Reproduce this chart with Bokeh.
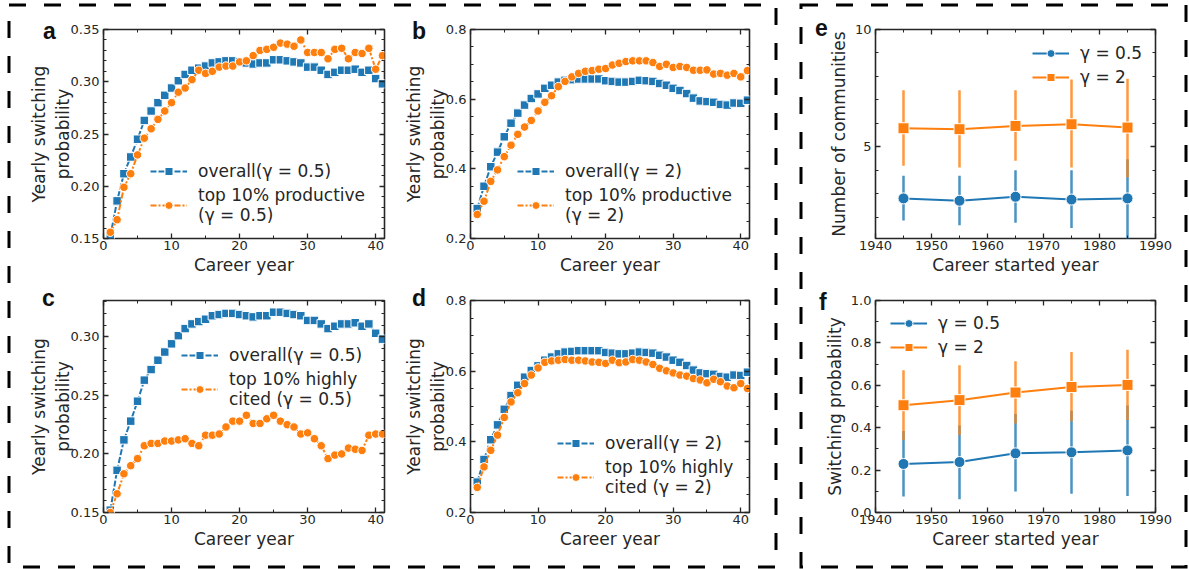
import numpy as np
from bokeh.plotting import figure
from bokeh.layouts import row, column
from bokeh.models import (LinearAxis, FixedTicker, Range1d, Legend, LegendItem,
                          ColumnDataSource, PrintfTickFormatter, Div)
from bokeh.embed import file_html
from bokeh.resources import INLINE

FONT = "DejaVu Sans"
BLUE = "#1f77b4"
ORANGE = "#ff7f0e"
INK = "#262626"

# ---------------- data ----------------
years = list(range(1, 42))
overall_05 = [0.152, 0.186, 0.212, 0.228, 0.245, 0.263, 0.272, 0.280, 0.287, 0.294,
              0.301, 0.307, 0.311, 0.313, 0.315, 0.318, 0.319, 0.320, 0.320, 0.319,
              0.318, 0.317, 0.318, 0.318, 0.321, 0.321, 0.320, 0.319, 0.318, 0.314,
              0.314, 0.311, 0.307, 0.309, 0.311, 0.311, 0.312, 0.309, 0.311, 0.303, 0.298]
top_prod_05 = [0.156, 0.168, 0.199, 0.212, 0.230, 0.246, 0.255, 0.264, 0.272, 0.280,
               0.290, 0.294, 0.302, 0.311, 0.308, 0.310, 0.314, 0.315, 0.315, 0.319,
               0.320, 0.325, 0.330, 0.331, 0.333, 0.337, 0.336, 0.334, 0.340, 0.328,
               0.328, 0.328, 0.322, 0.331, 0.332, 0.322, 0.328, 0.327, 0.332, 0.312, 0.325]
top_cited_05 = [0.150, 0.166, 0.183, 0.190, 0.196, 0.207, 0.209, 0.209, 0.211, 0.211,
                0.212, 0.213, 0.209, 0.207, 0.216, 0.216, 0.217, 0.223, 0.228, 0.228,
                0.233, 0.226, 0.226, 0.230, 0.233, 0.228, 0.225, 0.223, 0.217, 0.218,
                0.213, 0.207, 0.196, 0.199, 0.200, 0.205, 0.204, 0.203, 0.216, 0.217, 0.217]
overall_2 = [0.286, 0.350, 0.406, 0.448, 0.492, 0.531, 0.560, 0.583, 0.602, 0.615,
             0.631, 0.640, 0.649, 0.654, 0.656, 0.658, 0.658, 0.658, 0.658, 0.653,
             0.651, 0.649, 0.649, 0.651, 0.654, 0.653, 0.651, 0.645, 0.640, 0.631,
             0.625, 0.616, 0.603, 0.595, 0.593, 0.591, 0.585, 0.583, 0.589, 0.588, 0.597]
top_prod_2 = [0.269, 0.307, 0.364, 0.397, 0.435, 0.468, 0.499, 0.520, 0.539, 0.566,
              0.591, 0.610, 0.636, 0.651, 0.664, 0.674, 0.680, 0.682, 0.686, 0.688,
              0.698, 0.703, 0.708, 0.710, 0.710, 0.710, 0.705, 0.694, 0.700, 0.691,
              0.694, 0.691, 0.683, 0.683, 0.684, 0.672, 0.674, 0.669, 0.674, 0.664, 0.682]
top_cited_2 = [0.271, 0.329, 0.376, 0.419, 0.469, 0.513, 0.539, 0.565, 0.589, 0.609,
               0.625, 0.629, 0.631, 0.633, 0.631, 0.631, 0.629, 0.626, 0.625, 0.622,
               0.631, 0.624, 0.626, 0.633, 0.631, 0.626, 0.619, 0.608, 0.601, 0.595,
               0.589, 0.586, 0.579, 0.575, 0.567, 0.577, 0.570, 0.558, 0.553, 0.565, 0.551]

start_years = [1945, 1955, 1965, 1975, 1985]
comm_05 = [2.80, 2.70, 2.87, 2.75, 2.80]
comm_05_lo = [1.86, 1.65, 1.76, 1.54, 0.95]
comm_05_hi = [3.77, 3.77, 4.00, 4.00, 4.47]
comm_2 = [5.79, 5.75, 5.89, 5.96, 5.82]
comm_2_lo = [4.19, 4.12, 4.40, 4.12, 3.70]
comm_2_hi = [7.41, 7.41, 7.41, 7.87, 7.90]
sw_05 = [0.229, 0.238, 0.279, 0.284, 0.293]
sw_05_lo = [0.075, 0.063, 0.099, 0.088, 0.078]
sw_05_hi = [0.384, 0.410, 0.465, 0.480, 0.505]
sw_2 = [0.506, 0.530, 0.566, 0.592, 0.602]
sw_2_lo = [0.342, 0.365, 0.420, 0.431, 0.436]
sw_2_hi = [0.671, 0.694, 0.713, 0.757, 0.768]

# ---------------- layout (page pixels) ----------------
COLS = [(392, 103, 8), (406, 78, 49), (390, 77, 33)]   # width, min_left, min_right
ROWS = [(284, 29, 46), (284, 16, 56)]                  # height, min_top, min_bottom


def make_panel(ci, ri, xr, yr, xt, xm, yt, ym, yfmt, xlabel, ylabel, ylab_standoff):
    w, mbl, mbr = COLS[ci]
    h, mbt, mbb = ROWS[ri]
    p = figure(width=w, height=h, x_range=Range1d(*xr), y_range=Range1d(*yr),
               output_backend="svg", toolbar_location=None,
               min_border_left=mbl, min_border_right=mbr,
               min_border_top=mbt, min_border_bottom=mbb)
    p.grid.visible = False
    p.outline_line_color = INK
    p.outline_line_width = 1.6
    p.add_layout(LinearAxis(), "above")
    p.add_layout(LinearAxis(), "right")
    xtick = FixedTicker(ticks=xt, minor_ticks=xm)
    ytick = FixedTicker(ticks=yt, minor_ticks=ym)
    for ax in p.xaxis:
        ax.ticker = xtick
    for ax in p.yaxis:
        ax.ticker = ytick
        ax.formatter = PrintfTickFormatter(format=yfmt)
    for ax in p.axis:
        ax.axis_line_color = None
        ax.major_tick_in = 5
        ax.major_tick_out = 0
        ax.minor_tick_in = 3
        ax.minor_tick_out = 0
        ax.major_tick_line_color = INK
        ax.minor_tick_line_color = INK
        ax.major_tick_line_width = 1.3
        ax.minor_tick_line_width = 1.0
        ax.major_label_text_font = FONT
        ax.major_label_text_font_size = "13px"
        ax.major_label_text_color = INK
        ax.axis_label_text_font = FONT
        ax.axis_label_text_font_size = "17px"
        ax.axis_label_text_font_style = "normal"
        ax.axis_label_text_color = INK
    for ax in p.above + p.right:
        ax.major_label_text_font_size = "0px"
        ax.major_label_text_color = None
        ax.major_label_standoff = 0
    bx = p.below[0]
    bx.axis_label = xlabel
    bx.major_label_standoff = 2
    bx.axis_label_standoff = 2
    ly = p.left[0]
    ly.axis_label = ylabel
    ly.major_label_standoff = 4
    ly.axis_label_standoff = ylab_standoff
    return p


def add_series(p, xs, ys, color, marker, dash):
    src = ColumnDataSource(dict(x=xs, y=ys))
    l = p.line("x", "y", source=src, line_color=color, line_width=2, line_dash=dash)
    s = p.scatter("x", "y", source=src, marker=marker, size=8.5, fill_color=color,
                  line_color="white", line_width=1)
    return [l, s]


def add_legend(p, items, loc):
    leg = Legend(items=[LegendItem(label=t, renderers=r) for t, r in items], location=loc,
                 background_fill_alpha=0, border_line_color=None,
                 label_text_font=FONT, label_text_font_size="17px", label_text_color=INK,
                 glyph_width=37, glyph_height=20, label_standoff=11, spacing=4,
                 padding=0, margin=0)
    p.add_layout(leg)


X_CAREER = (0, 41.3)
xt_c = [0, 10, 20, 30, 40]
xm_c = [5, 15, 25, 35]
yt_a = [0.15, 0.20, 0.25, 0.30, 0.35]
ym_a = [round(v, 2) for v in np.arange(0.15, 0.351, 0.01)]
yt_b = [0.2, 0.4, 0.6, 0.8]
ym_b = [round(v, 2) for v in np.arange(0.2, 0.801, 0.05)]
yt_c = [0.15, 0.20, 0.25, 0.30]
ym_c = [round(v, 2) for v in np.arange(0.15, 0.331, 0.01)]
YLAB = "Yearly switching\nprobability"

# panel a
pa = make_panel(0, 0, X_CAREER, (0.15 - 1e-6, 0.35 + 1e-6), xt_c, xm_c, yt_a, ym_a, "%.2f",
                "Career year", YLAB, -5)
r1 = add_series(pa, years, overall_05, BLUE, "square", "6 2")
r2 = add_series(pa, years, top_prod_05, ORANGE, "circle", "6 2 2 2")
add_legend(pa, [("overall(γ = 0.5)", r1), ("top 10% productive\n(γ = 0.5)", r2)], (47, 13))

# panel b
pb = make_panel(1, 0, X_CAREER, (0.2 - 1e-6, 0.8 + 1e-6), xt_c, xm_c, yt_b, ym_b, "%.1f",
                "Career year", YLAB, -5)
r1 = add_series(pb, years, overall_2, BLUE, "square", "6 2")
r2 = add_series(pb, years, top_prod_2, ORANGE, "circle", "6 2 2 2")
add_legend(pb, [("overall(γ = 2)", r1), ("top 10% productive\n(γ = 2)", r2)], (47, 13))

# panel c
pc = make_panel(0, 1, X_CAREER, (0.15 - 1e-6, 0.331), xt_c, xm_c, yt_c, ym_c, "%.2f",
                "Career year", YLAB, -5)
r1 = add_series(pc, years, overall_05, BLUE, "square", "6 2")
r2 = add_series(pc, years, top_cited_05, ORANGE, "circle", "6 2 2 2")
add_legend(pc, [("overall(γ = 0.5)", r1), ("top 10% highly\ncited (γ = 0.5)", r2)], (78, 103))

# panel d
pd = make_panel(1, 1, X_CAREER, (0.2 - 1e-6, 0.8 + 1e-6), xt_c, xm_c, yt_b, ym_b, "%.1f",
                "Career year", YLAB, -5)
r1 = add_series(pd, years, overall_2, BLUE, "square", "6 2")
r2 = add_series(pd, years, top_cited_2, ORANGE, "circle", "6 2 2 2")
add_legend(pd, [("overall(γ = 2)", r1), ("top 10% highly\ncited (γ = 2)", r2)], (87, 15))


def add_err_series(p, xs, ys, lo, hi, color, marker):
    src = ColumnDataSource(dict(x=xs, y=ys, lo=lo, hi=hi))
    p.segment(x0="x", y0="lo", x1="x", y1="hi", source=src, line_color=color,
              line_width=2.5, line_alpha=0.8)
    l = p.line("x", "y", source=src, line_color=color, line_width=2)
    s = p.scatter("x", "y", source=src, marker=marker, size=11, fill_color=color,
                  line_color="white", line_width=1)
    return [l, s]


X_START = (1940, 1990)
xt_s = [1940, 1950, 1960, 1970, 1980, 1990]
xm_s = [1945, 1955, 1965, 1975, 1985]

# panel e
pe = make_panel(2, 0, X_START, (1.09, 10 + 1e-6), xt_s, xm_s, [5, 10], list(range(2, 10)), "%d",
                "Career started year", "Number of communities", 3)
r1 = add_err_series(pe, start_years, comm_05, comm_05_lo, comm_05_hi, BLUE, "circle")
r2 = add_err_series(pe, start_years, comm_2, comm_2_lo, comm_2_hi, ORANGE, "square")
add_legend(pe, [("γ = 0.5", r1), ("γ = 2", r2)], (157, 151))

# panel f
pf = make_panel(2, 1, X_START, (0 - 1e-6, 1 + 1e-6), xt_s, xm_s,
                [0.0, 0.2, 0.4, 0.6, 0.8, 1.0], [0.1, 0.3, 0.5, 0.7, 0.9], "%.1f",
                "Career started year", "Switching probability", 3)
r1 = add_err_series(pf, start_years, sw_05, sw_05_lo, sw_05_hi, BLUE, "circle")
r2 = add_err_series(pf, start_years, sw_2, sw_2_lo, sw_2_hi, ORANGE, "square")
add_legend(pf, [("γ = 0.5", r1), ("γ = 2", r2)], (15, 155))

# ---------------- decorations: dashed group boxes and panel letters ----------------
BOXES = [(9, 5, 776, 567), (801, 5, 1186, 567)]
LETTERS = [("a", 43, 39), ("b", 412, 39), ("c", 42, 306), ("d", 412, 306),
           ("e", 815, 36), ("f", 819, 310)]
svg_parts = ['<svg xmlns="http://www.w3.org/2000/svg" width="1188" height="568" '
             'style="display:block;overflow:visible">']
for x0, y0, x1, y1 in BOXES:
    svg_parts.append(f'<rect x="{x0}" y="{y0}" width="{x1 - x0}" height="{y1 - y0}" '
                     'fill="none" stroke="black" stroke-width="3" stroke-dasharray="17 18"/>')
for t, x, y in LETTERS:
    svg_parts.append(f'<text x="{x}" y="{y}" font-family="DejaVu Sans" font-weight="bold" '
                     f'font-size="23px" fill="#111111">{t}</text>')
svg_parts.append('</svg>')
overlay = Div(text="".join(svg_parts), width=1188, height=568, margin=0,
              styles={"position": "absolute", "left": "0px", "top": "0px",
                      "z-index": "10", "pointer-events": "none"})

grid = row(column(pa, pc), column(pb, pd), column(pe, pf))
layout = column(grid, overlay, styles={"position": "relative"})
open("out.html", "w").write(file_html(layout, INLINE))
